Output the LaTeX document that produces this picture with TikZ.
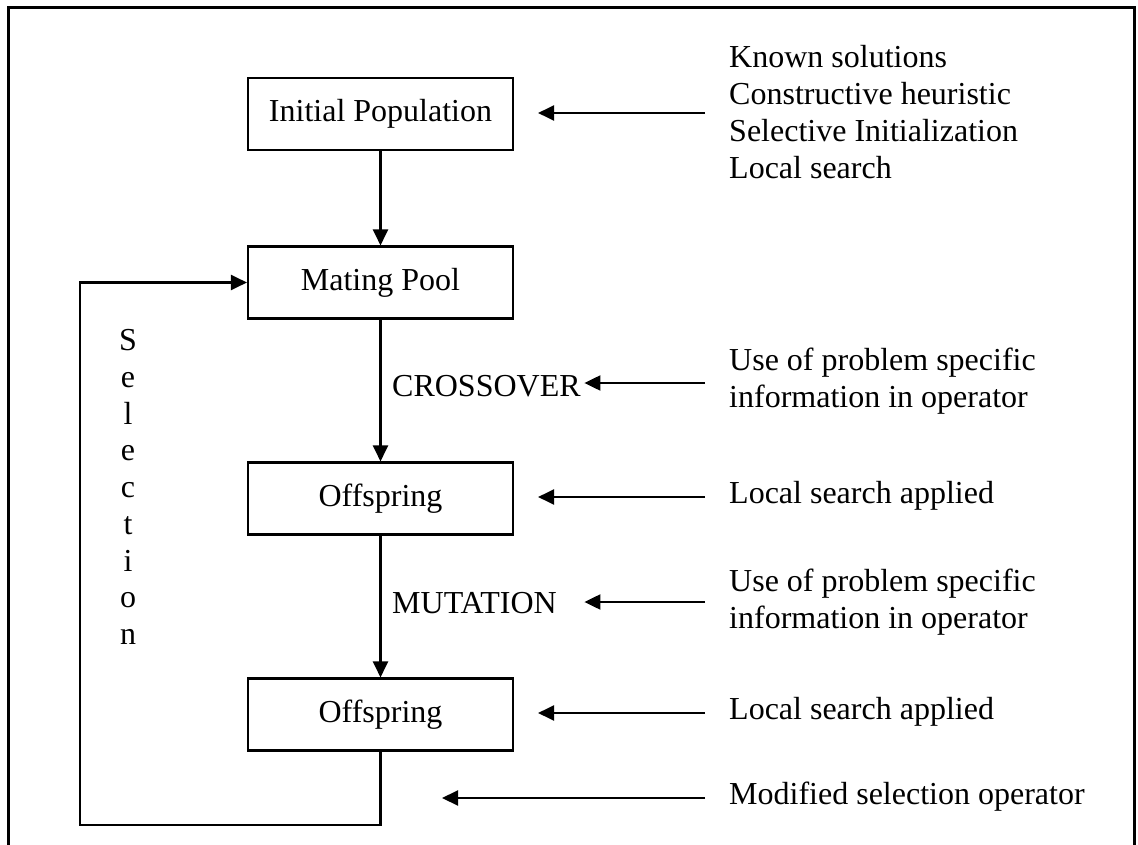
\documentclass[tikz,border=0pt]{standalone}
\usepackage{fontspec}
\setmainfont{Liberation Serif}
\usetikzlibrary{arrows.meta}
\begin{document}
\begin{tikzpicture}[x=1pt,y=-1pt,
  every node/.style={font=\fontsize{32}{36.75}\selectfont},
  box/.style={draw, line width=2.1pt, minimum width=265pt, minimum height=72pt, inner sep=0pt},
  flow/.style={line width=2.1pt, -{Triangle[length=16pt,width=15pt]}},
  note/.style={anchor=west, inner sep=0pt, align=left},
  oplabel/.style={anchor=west, inner sep=0pt, text width=192pt, align=left}]
\useasboundingbox (0,0) rectangle (1138,845);

% open frame
\draw[line width=3pt] (8.3,845) -- (8.3,8) -- (1134.7,8) -- (1134.7,845);

% main flow boxes
\node[box] (init) at (380.5,114)   {Initial Population};
\node[box] (mate) at (380.5,282.5) {Mating Pool};
\node[box] (off1) at (380.5,498.5) {Offspring};
\node[box] (off2) at (380.5,714.5) {Offspring};

% operator labels
\node[oplabel] (cross) at (392,386) {CROSSOVER};
\node[oplabel] (mut)   at (392,603) {MUTATION};

% vertical flow
\draw[flow] (init) -- (mate);
\draw[flow] (mate) -- (off1);
\draw[flow] (off1) -- (off2);

% selection loop
\coordinate (lb) at (80,825);
\draw[flow] (off2.south) |- (lb) |- (mate.west);
\node (sel) [align=center, inner sep=0pt] at (128,487) {S\\e\\l\\e\\c\\t\\i\\o\\n};

% side notes
\node[note] (n1) at (729,112) {Known solutions\\Constructive heuristic\\Selective Initialization\\Local search};
\node[note] (n2) at (729,381) {Use of problem specific\\information in operator};
\node[note] (n3) at (729,496) {Local search applied};
\node[note] (n4) at (729,602) {Use of problem specific\\information in operator};
\node[note] (n5) at (729,712) {Local search applied};
\node[note] (n6) at (729,797) {Modified selection operator};

% side arrows
\coordinate (s1) at (705,113);
\coordinate (s2) at (705,383);
\coordinate (s3) at (705,497);
\coordinate (s4) at (705,602);
\coordinate (s5) at (705,713);
\coordinate (s6) at (705,798);
\coordinate (s6tip) at (442,798);
\draw[flow, shorten >=24pt] (s1) -- (s1 -| init.east);
\draw[flow] (s2) -- (s2 -| cross.east);
\draw[flow, shorten >=24pt] (s3) -- (s3 -| off1.east);
\draw[flow] (s4) -- (s4 -| mut.east);
\draw[flow, shorten >=24pt] (s5) -- (s5 -| off2.east);
\draw[flow] (s6) -- (s6tip);
\end{tikzpicture}
\end{document}
